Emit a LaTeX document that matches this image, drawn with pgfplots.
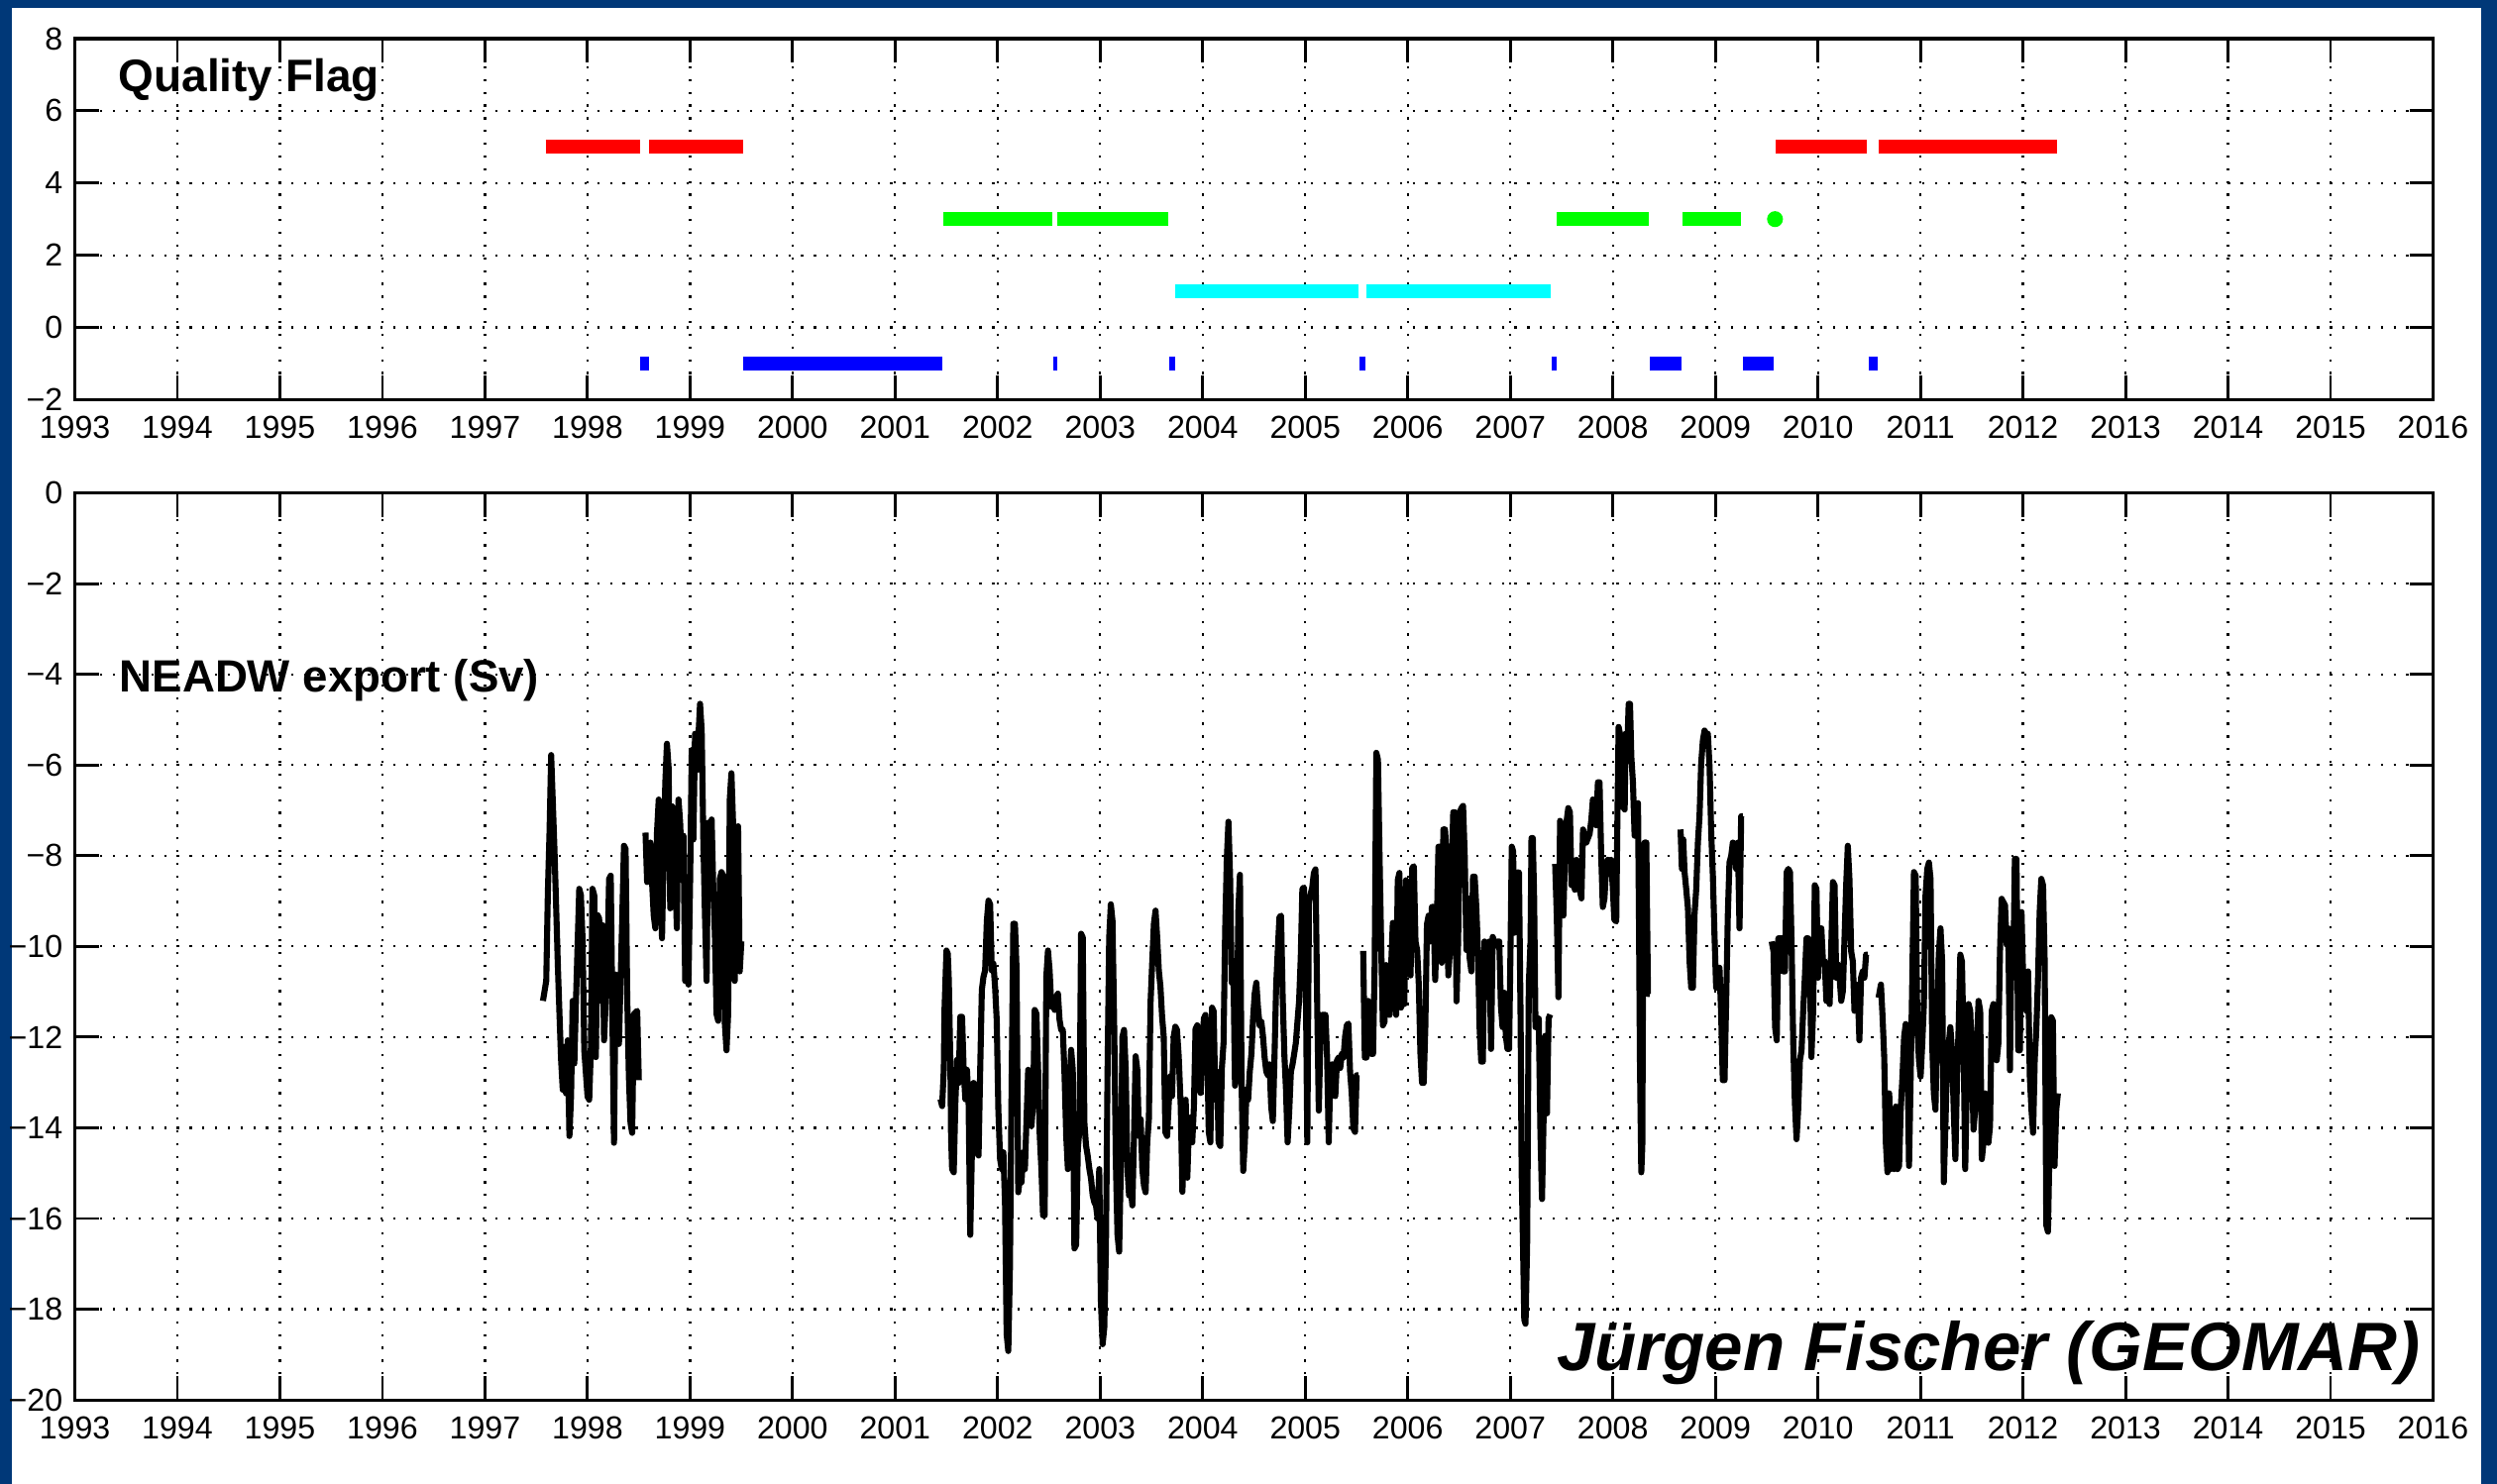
\documentclass[border=0pt]{standalone}
\usepackage{fontspec}
\setmainfont{Liberation Sans}
\setsansfont{Liberation Sans}
\usepackage{pgfplots}
\pgfplotsset{compat=1.18}
\usepackage{pgfplotstable}
\definecolor{frameblue}{RGB}{0,56,120}
\definecolor{qred}{RGB}{255,0,0}
\definecolor{qgreen}{RGB}{0,255,0}
\definecolor{qcyan}{RGB}{0,255,255}
\definecolor{qblue}{RGB}{0,0,255}

\pgfplotstableread{
x y
1997.565 -11.20
1997.597 -10.76
1997.613 -8.80
1997.629 -7.49
1997.645 -5.78
1997.677 -7.85
1997.694 -9.16
1997.710 -10.40
1997.726 -11.49
1997.742 -12.51
1997.758 -13.16
1997.774 -12.22
1997.790 -13.24
1997.806 -12.07
1997.823 -14.18
1997.839 -13.31
1997.855 -11.20
1997.871 -12.58
1997.887 -11.20
1997.903 -9.96
1997.919 -8.73
1997.935 -8.87
1997.952 -9.89
1997.968 -12.29
1998.000 -13.31
1998.016 -13.38
1998.032 -12.29
1998.048 -8.73
1998.065 -8.87
1998.081 -12.44
1998.097 -9.31
1998.113 -9.38
1998.129 -11.20
1998.145 -9.53
1998.161 -12.07
1998.194 -10.33
1998.210 -8.51
1998.226 -8.44
1998.242 -11.49
1998.258 -14.33
1998.274 -10.62
1998.306 -12.15
1998.339 -9.31
1998.355 -7.78
1998.371 -7.85
1998.387 -11.13
1998.403 -12.87
1998.419 -13.89
1998.435 -14.11
1998.452 -11.49
1998.484 -11.42
1998.500 -12.95
1998.530 nan
1998.565 -7.49
1998.581 -8.58
1998.597 -8.15
1998.613 -7.71
1998.629 -8.58
1998.645 -9.31
1998.661 -9.60
1998.677 -7.49
1998.694 -6.76
1998.710 -8.29
1998.726 -9.82
1998.742 -8.00
1998.758 -6.40
1998.774 -5.53
1998.790 -6.04
1998.806 -9.16
1998.823 -6.91
1998.839 -6.98
1998.855 -8.44
1998.871 -9.60
1998.887 -6.76
1998.903 -7.27
1998.919 -8.22
1998.935 -7.56
1998.952 -10.76
1998.968 -8.87
1998.984 -10.84
1999.000 -8.58
1999.016 -5.67
1999.032 -7.64
1999.048 -5.31
1999.065 -6.11
1999.097 -4.65
1999.113 -5.24
1999.129 -7.64
1999.145 -9.31
1999.161 -10.76
1999.177 -7.27
1999.194 -8.29
1999.210 -7.20
1999.226 -8.73
1999.242 -9.75
1999.258 -11.49
1999.274 -11.64
1999.290 -8.51
1999.306 -8.36
1999.323 -8.44
1999.339 -11.71
1999.355 -12.29
1999.371 -11.49
1999.387 -6.76
1999.403 -6.18
1999.419 -7.27
1999.435 -10.76
1999.452 -9.31
1999.468 -7.35
1999.484 -10.55
1999.500 -9.89
2000.500 nan
2001.442 -13.37
2001.458 -13.52
2001.474 -12.72
2001.481 -11.40
2001.500 -10.09
2001.513 -10.16
2001.523 -10.74
2001.539 -12.72
2001.545 -14.18
2001.555 -14.91
2001.571 -14.98
2001.587 -13.45
2001.603 -12.50
2001.619 -13.01
2001.635 -11.55
2001.652 -11.55
2001.668 -12.72
2001.684 -13.37
2001.700 -12.72
2001.716 -13.45
2001.732 -16.36
2001.748 -14.54
2001.765 -13.01
2001.781 -13.08
2001.797 -14.54
2001.813 -14.61
2001.829 -12.72
2001.845 -10.96
2001.861 -10.67
2001.877 -10.53
2001.894 -9.43
2001.910 -8.99
2001.926 -9.07
2001.942 -10.53
2001.958 -10.38
2001.974 -10.89
2001.990 -11.62
2002.006 -13.59
2002.023 -14.69
2002.039 -14.91
2002.055 -14.54
2002.071 -15.64
2002.087 -18.55
2002.103 -18.92
2002.119 -17.09
2002.135 -13.15
2002.152 -9.50
2002.168 -9.50
2002.184 -10.53
2002.200 -15.42
2002.216 -15.12
2002.232 -15.20
2002.248 -14.54
2002.265 -14.91
2002.281 -13.81
2002.297 -12.72
2002.313 -12.86
2002.329 -13.96
2002.345 -13.45
2002.361 -11.40
2002.377 -11.48
2002.394 -12.72
2002.410 -14.18
2002.426 -14.91
2002.442 -15.93
2002.458 -15.93
2002.474 -10.67
2002.490 -10.09
2002.506 -10.53
2002.523 -11.33
2002.539 -11.26
2002.555 -11.40
2002.571 -11.11
2002.587 -11.04
2002.603 -11.62
2002.619 -11.84
2002.635 -11.84
2002.652 -12.86
2002.668 -14.18
2002.684 -14.91
2002.700 -13.08
2002.716 -12.28
2002.732 -12.72
2002.748 -16.66
2002.765 -16.58
2002.781 -14.47
2002.797 -14.03
2002.813 -9.72
2002.829 -9.80
2002.845 -13.88
2002.861 -14.39
2002.877 -14.61
2002.894 -14.91
2002.910 -15.12
2002.926 -15.49
2002.942 -15.64
2002.958 -15.71
2002.974 -16.00
2002.990 -14.91
2003.006 -17.82
2003.023 -18.77
2003.039 -18.41
2003.055 -16.66
2003.071 -12.72
2003.087 -9.80
2003.103 -9.07
2003.119 -9.43
2003.135 -11.62
2003.152 -14.76
2003.168 -16.36
2003.184 -16.73
2003.200 -14.91
2003.216 -11.99
2003.232 -11.84
2003.248 -12.72
2003.265 -14.91
2003.281 -15.49
2003.297 -15.34
2003.313 -15.71
2003.329 -14.18
2003.345 -12.42
2003.361 -12.72
2003.377 -14.18
2003.394 -13.81
2003.410 -14.91
2003.426 -15.27
2003.442 -15.42
2003.458 -14.32
2003.474 -13.81
2003.490 -11.26
2003.506 -10.38
2003.523 -9.50
2003.539 -9.21
2003.555 -9.80
2003.571 -10.53
2003.587 -10.89
2003.603 -11.55
2003.619 -11.99
2003.635 -14.10
2003.652 -14.18
2003.668 -13.45
2003.684 -12.86
2003.700 -13.30
2003.716 -11.99
2003.732 -11.77
2003.748 -11.84
2003.765 -12.42
2003.785 -13.54
2003.801 -15.41
2003.817 -14.32
2003.833 -13.38
2003.849 -15.10
2003.865 -13.93
2003.881 -13.77
2003.897 -14.32
2003.913 -13.54
2003.929 -11.82
2003.946 -11.74
2003.962 -12.13
2003.978 -13.23
2003.994 -12.45
2004.010 -11.59
2004.026 -11.51
2004.042 -12.21
2004.058 -14.09
2004.074 -14.32
2004.090 -11.35
2004.106 -11.43
2004.122 -13.38
2004.138 -12.76
2004.154 -14.32
2004.170 -14.40
2004.186 -12.68
2004.202 -12.13
2004.218 -9.63
2004.234 -8.07
2004.250 -7.25
2004.266 -8.46
2004.282 -10.80
2004.298 -10.41
2004.314 -13.07
2004.330 -12.76
2004.346 -9.24
2004.362 -8.42
2004.378 -12.99
2004.394 -14.95
2004.410 -14.32
2004.426 -13.15
2004.442 -13.38
2004.458 -12.76
2004.474 -12.37
2004.490 -11.59
2004.506 -11.04
2004.522 -10.80
2004.538 -11.35
2004.554 -11.74
2004.571 -11.66
2004.587 -11.98
2004.603 -12.45
2004.619 -12.76
2004.635 -12.84
2004.651 -12.60
2004.667 -13.54
2004.683 -13.85
2004.699 -12.45
2004.715 -10.88
2004.731 -10.10
2004.747 -9.36
2004.763 -9.32
2004.779 -11.12
2004.795 -12.37
2004.811 -13.15
2004.827 -14.32
2004.843 -13.62
2004.859 -12.76
2004.875 -12.60
2004.891 -12.37
2004.907 -12.13
2004.923 -11.66
2004.939 -11.20
2004.955 -10.26
2004.971 -8.73
2004.987 -8.70
2005.003 -10.41
2005.019 -14.32
2005.035 -9.01
2005.051 -8.85
2005.067 -8.70
2005.083 -8.38
2005.099 -8.30
2005.115 -11.20
2005.131 -13.62
2005.147 -11.98
2005.163 -11.51
2005.179 -11.51
2005.196 -11.51
2005.212 -12.45
2005.228 -14.32
2005.244 -12.76
2005.260 -12.60
2005.276 -12.60
2005.292 -13.30
2005.308 -12.52
2005.324 -12.45
2005.340 -12.68
2005.356 -12.37
2005.372 -12.45
2005.388 -11.98
2005.404 -11.74
2005.420 -11.70
2005.436 -12.76
2005.452 -13.23
2005.468 -14.01
2005.484 -14.09
2005.500 -12.84
2005.516 -12.84
2005.540 nan
2005.564 -10.10
2005.580 -12.45
2005.596 -12.45
2005.612 -11.20
2005.628 -11.98
2005.644 -12.37
2005.660 -12.37
2005.676 -10.41
2005.692 -5.73
2005.708 -5.88
2005.724 -8.07
2005.740 -10.02
2005.756 -11.74
2005.772 -11.66
2005.788 -10.41
2005.804 -11.43
2005.821 -11.51
2005.837 -10.41
2005.853 -9.48
2005.869 -9.48
2005.885 -11.51
2005.901 -8.54
2005.917 -8.38
2005.933 -11.35
2005.949 -10.41
2005.965 -11.27
2005.981 -8.54
2005.997 -9.32
2006.010 -9.22
2006.026 -10.64
2006.042 -8.27
2006.058 -8.23
2006.074 -9.89
2006.090 -10.08
2006.106 -10.83
2006.122 -12.35
2006.138 -13.01
2006.154 -13.01
2006.170 -11.78
2006.186 -9.51
2006.202 -9.32
2006.218 -9.89
2006.234 -9.13
2006.250 -9.13
2006.266 -10.74
2006.282 -9.51
2006.298 -7.80
2006.314 -7.80
2006.330 -10.36
2006.346 -7.42
2006.362 -7.42
2006.378 -7.99
2006.394 -10.64
2006.410 -10.08
2006.426 -8.46
2006.442 -7.04
2006.458 -7.04
2006.474 -11.21
2006.490 -9.89
2006.506 -7.04
2006.522 -6.95
2006.538 -6.90
2006.554 -7.99
2006.571 -10.08
2006.587 -8.94
2006.603 -10.27
2006.619 -10.55
2006.635 -8.46
2006.651 -8.46
2006.667 -9.13
2006.683 -10.08
2006.699 -11.78
2006.715 -12.54
2006.731 -12.54
2006.747 -9.89
2006.763 -11.12
2006.779 -10.08
2006.795 -9.89
2006.811 -12.26
2006.827 -9.79
2006.843 -9.89
2006.859 -9.98
2006.875 -9.89
2006.891 -9.89
2006.907 -11.31
2006.923 -11.78
2006.939 -11.02
2006.955 -11.97
2006.971 -12.26
2006.987 -12.26
2007.003 -9.70
2007.013 -7.80
2007.026 -7.90
2007.038 -9.70
2007.051 -8.56
2007.067 -8.37
2007.083 -8.37
2007.099 -11.59
2007.109 -14.91
2007.122 -16.52
2007.135 -18.23
2007.147 -18.32
2007.163 -16.52
2007.179 -10.83
2007.196 -9.89
2007.205 -7.61
2007.218 -7.61
2007.231 -8.94
2007.244 -11.78
2007.260 -11.78
2007.276 -11.59
2007.292 -14.06
2007.308 -15.57
2007.324 -13.68
2007.340 -11.97
2007.356 -13.68
2007.372 -11.59
2007.388 -11.50
2007.410 nan
2007.436 -8.18
2007.452 -9.32
2007.468 -11.12
2007.484 -7.23
2007.500 -7.33
2007.516 -9.32
2007.532 -7.99
2007.548 -7.23
2007.564 -6.95
2007.580 -7.04
2007.596 -8.65
2007.612 -8.18
2007.628 -8.75
2007.644 -8.09
2007.660 -8.37
2007.676 -8.75
2007.692 -8.94
2007.708 -7.42
2007.724 -7.61
2007.740 -7.71
2007.756 -7.61
2007.772 -7.52
2007.788 -7.23
2007.804 -6.76
2007.821 -6.85
2007.837 -7.33
2007.853 -6.38
2007.869 -6.38
2007.885 -7.99
2007.901 -9.13
2007.917 -8.94
2007.933 -8.27
2007.949 -8.09
2007.965 -8.18
2007.981 -8.09
2007.997 -8.65
2008.013 -9.41
2008.032 -9.45
2008.042 -7.42
2008.055 -5.16
2008.068 -5.31
2008.081 -6.04
2008.097 -6.91
2008.114 -6.98
2008.123 -5.31
2008.136 -5.89
2008.153 -4.65
2008.166 -4.65
2008.179 -5.82
2008.195 -6.40
2008.211 -7.56
2008.227 -7.56
2008.244 -6.84
2008.253 -9.31
2008.263 -12.58
2008.276 -14.98
2008.286 -14.40
2008.295 -9.31
2008.308 -7.71
2008.325 -7.71
2008.341 -11.05
2008.357 -11.05
2008.500 nan
2008.659 -7.42
2008.672 -8.29
2008.685 -7.64
2008.698 -8.36
2008.714 -8.73
2008.731 -9.16
2008.747 -10.33
2008.763 -10.91
2008.779 -10.91
2008.795 -9.31
2008.812 -8.73
2008.828 -7.71
2008.844 -7.13
2008.860 -5.96
2008.877 -5.45
2008.893 -5.24
2008.909 -5.31
2008.925 -5.31
2008.942 -6.04
2008.958 -7.49
2008.974 -8.44
2008.990 -9.75
2009.006 -10.91
2009.023 -10.55
2009.039 -10.47
2009.055 -11.49
2009.071 -12.95
2009.088 -12.95
2009.104 -11.20
2009.120 -9.31
2009.136 -8.15
2009.153 -8.00
2009.169 -7.71
2009.185 -7.85
2009.201 -8.29
2009.218 -7.71
2009.234 -9.60
2009.250 -7.13
2009.266 -7.13
2009.400 nan
2009.548 -9.89
2009.565 -10.11
2009.581 -11.78
2009.597 -12.07
2009.613 -9.82
2009.629 -9.82
2009.645 -9.82
2009.661 -10.55
2009.677 -10.55
2009.694 -8.36
2009.710 -8.29
2009.726 -8.36
2009.742 -9.96
2009.758 -12.15
2009.774 -13.45
2009.790 -14.25
2009.806 -13.60
2009.823 -12.51
2009.839 -12.29
2009.855 -11.42
2009.871 -10.69
2009.887 -9.82
2009.903 -9.82
2009.919 -10.33
2009.935 -12.44
2009.952 -11.42
2009.968 -8.65
2009.984 -8.73
2010.000 -10.69
2010.016 -9.60
2010.032 -9.60
2010.048 -10.33
2010.065 -10.33
2010.081 -11.20
2010.097 -10.69
2010.113 -11.27
2010.129 -9.96
2010.145 -8.58
2010.161 -8.65
2010.177 -10.69
2010.194 -10.40
2010.210 -10.69
2010.226 -11.20
2010.242 -10.98
2010.258 -9.82
2010.274 -8.65
2010.290 -7.78
2010.306 -8.51
2010.323 -10.11
2010.339 -10.33
2010.355 -11.42
2010.371 -10.84
2010.387 -10.98
2010.403 -12.07
2010.419 -10.69
2010.435 -10.55
2010.452 -10.69
2010.468 -10.18
2010.484 -10.18
2010.540 nan
2010.590 -11.13
2010.613 -10.84
2010.629 -11.56
2010.645 -12.44
2010.661 -14.33
2010.677 -14.98
2010.694 -13.24
2010.710 -14.91
2010.726 -13.60
2010.742 -14.91
2010.758 -13.53
2010.774 -14.91
2010.790 -14.84
2010.806 -13.60
2010.823 -12.87
2010.839 -12.00
2010.855 -11.71
2010.871 -12.29
2010.887 -14.84
2010.903 -12.87
2010.919 -10.69
2010.935 -8.36
2010.952 -8.44
2010.968 -11.78
2010.984 -12.51
2011.000 -12.87
2011.016 -12.15
2011.032 -11.27
2011.048 -8.87
2011.065 -8.29
2011.081 -8.15
2011.097 -8.51
2011.113 -12.15
2011.129 -13.24
2011.145 -13.60
2011.161 -11.78
2011.177 -10.18
2011.194 -9.60
2011.210 -10.33
2011.226 -15.20
2011.242 -13.96
2011.258 -12.51
2011.274 -12.15
2011.290 -11.78
2011.306 -12.29
2011.323 -13.60
2011.339 -14.69
2011.355 -12.87
2011.371 -11.78
2011.387 -10.18
2011.403 -10.33
2011.419 -12.15
2011.435 -14.91
2011.452 -12.87
2011.468 -11.27
2011.484 -11.42
2011.500 -12.51
2011.516 -14.04
2011.532 -13.60
2011.548 -12.15
2011.565 -11.20
2011.581 -11.42
2011.597 -14.69
2011.613 -14.33
2011.629 -13.24
2011.645 -13.60
2011.661 -14.33
2011.677 -13.96
2011.694 -11.42
2011.710 -11.27
2011.726 -11.42
2011.742 -12.51
2011.758 -12.15
2011.774 -10.11
2011.790 -8.95
2011.806 -9.02
2011.823 -9.09
2011.839 -9.96
2011.855 -9.60
2011.871 -12.73
2011.887 -9.82
2011.903 -10.69
2011.919 -8.07
2011.935 -8.07
2011.952 -12.29
2011.968 -12.29
2011.984 -9.24
2012.000 -10.69
2012.016 -11.13
2012.032 -11.42
2012.048 -10.55
2012.065 -12.87
2012.081 -13.60
2012.097 -14.11
2012.113 -12.51
2012.129 -11.78
2012.145 -10.69
2012.161 -9.24
2012.177 -8.51
2012.194 -8.65
2012.210 -10.33
2012.226 -16.15
2012.242 -16.29
2012.258 -14.33
2012.274 -11.56
2012.290 -11.64
2012.306 -14.84
2012.323 -13.60
2012.339 -13.24
}\neadw

\pgfplotsset{
  matlabstyle/.style={
    scale only axis,
    width=740.5pt,
    xmin=1993, xmax=2016,
    xtick={1993,1994,...,2016},
    tick align=inside,
    major tick length=7.5pt,
    axis line style={line width=1pt},
    major tick style={black, line width=0.9pt},
    grid=major,
    major grid style={black, line width=0.7pt, dash pattern=on 0.7pt off 3.3pt},
    /pgf/number format/1000 sep={},
    /pgf/number format/assume math mode=true,
    tick label style={font=\fontsize{10}{12}\selectfont},
    xticklabel style={yshift=-1.6pt},
    yticklabel style={xshift=-0.3pt},
  }
}

\begin{document}
\begin{tikzpicture}
\fill[frameblue] (-23.5pt,-26.35pt) rectangle (760.5pt,439.65pt);
\fill[white] (-19.8pt,-26.35pt) rectangle (755.5pt,437.15pt);

% ---------- top panel: quality flags ----------
\begin{axis}[matlabstyle,
  at={(0pt,314.15pt)}, anchor=south west,
  height=113.35pt,
  ymin=-2, ymax=8,
  ytick={-2,0,2,4,6,8},
  yticklabels={−2,0,2,4,6,8},
]
\addplot[qred, line width=4.4pt, line cap=butt, unbounded coords=jump] coordinates {
 (1997.59,5) (1998.51,5) (1998.55,nan) (1998.60,5) (1999.52,5) (2005,nan)
 (2009.59,5) (2010.48,5) (2010.53,nan) (2010.59,5) (2012.33,5)};
\addplot[qgreen, line width=4.4pt, line cap=butt, unbounded coords=jump] coordinates {
 (2001.47,3) (2002.53,3) (2002.555,nan) (2002.58,3) (2003.66,3) (2005,nan)
 (2007.45,3) (2008.35,3) (2008.5,nan) (2008.68,3) (2009.25,3)};
\addplot[qgreen, only marks, mark=*, mark size=2.3pt] coordinates {(2009.58,3)};
\addplot[qcyan, line width=4.4pt, line cap=butt, unbounded coords=jump] coordinates {
 (2003.73,1) (2005.52,1) (2005.56,nan) (2005.60,1) (2007.39,1)};
\addplot[qblue, line width=4.4pt, line cap=butt, unbounded coords=jump] coordinates {
 (1998.51,-1) (1998.60,-1) (1999.0,nan)
 (1999.52,-1) (2001.46,-1) (2002.0,nan)
 (2002.54,-1) (2002.58,-1) (2003.0,nan)
 (2003.67,-1) (2003.73,-1) (2004.5,nan)
 (2005.53,-1) (2005.59,-1) (2006.5,nan)
 (2007.40,-1) (2007.45,-1) (2008.0,nan)
 (2008.36,-1) (2008.67,-1) (2009.0,nan)
 (2009.27,-1) (2009.57,-1) (2010.0,nan)
 (2010.49,-1) (2010.58,-1)};
\node[anchor=base west, inner sep=0pt, font=\bfseries\fontsize{14.3}{16}\selectfont]
  at (axis cs:1993.42,6.53) {Quality Flag};
\end{axis}

% ---------- bottom panel: NEADW export ----------
\begin{axis}[matlabstyle,
  at={(0pt,0pt)}, anchor=south west,
  height=284.85pt,
  ymin=-20, ymax=0,
  ytick={-20,-18,-16,-14,-12,-10,-8,-6,-4,-2,0},
  yticklabels={−20,−18,−16,−14,−12,−10,−8,−6,−4,−2,0},
]
\addplot[black, line width=1.9pt, line join=round, unbounded coords=jump] table[x=x,y=y] {\neadw};
\node[anchor=base west, inner sep=0pt, font=\bfseries\fontsize{14.2}{16}\selectfont]
  at (axis cs:1993.43,-4.39) {NEADW export (Sv)};
\node[anchor=base east, inner sep=0pt, font=\bfseries\itshape\fontsize{21.5}{24}\selectfont]
  at (axis cs:2015.88,-19.36) {Jürgen Fischer (GEOMAR)};
\end{axis}

\pgfresetboundingbox
\useasboundingbox (-23.5pt,-26.35pt) rectangle (760.5pt,439.65pt);
\end{tikzpicture}
\end{document}
